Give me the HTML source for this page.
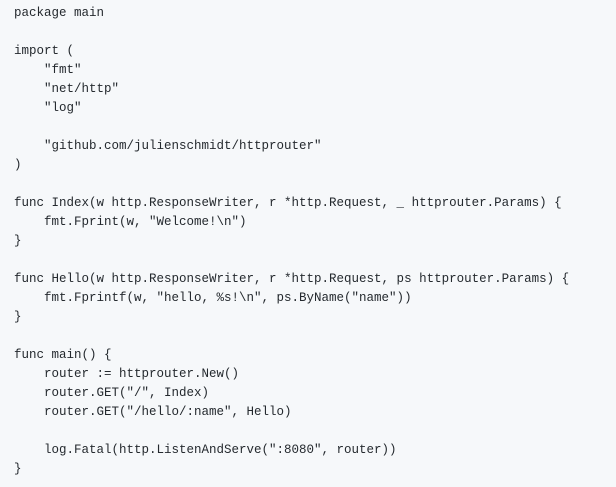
<!DOCTYPE html>
<html><head><style>
html,body{margin:0;padding:0;background:#f6f8fa;}
body{width:616px;height:487px;overflow:hidden;}
pre{margin:0;position:absolute;left:14px;top:4px;font-family:"Liberation Mono","DejaVu Sans Mono",monospace;font-size:12.5px;line-height:19px;color:#24292e;}
</style></head><body><pre>package main

import (
    "fmt"
    "net/http"
    "log"

    "github.com/julienschmidt/httprouter"
)

func Index(w http.ResponseWriter, r *http.Request, _ httprouter.Params) {
    fmt.Fprint(w, "Welcome!\n")
}

func Hello(w http.ResponseWriter, r *http.Request, ps httprouter.Params) {
    fmt.Fprintf(w, "hello, %s!\n", ps.ByName("name"))
}

func main() {
    router := httprouter.New()
    router.GET("/", Index)
    router.GET("/hello/:name", Hello)

    log.Fatal(http.ListenAndServe(":8080", router))
}</pre></body></html>
